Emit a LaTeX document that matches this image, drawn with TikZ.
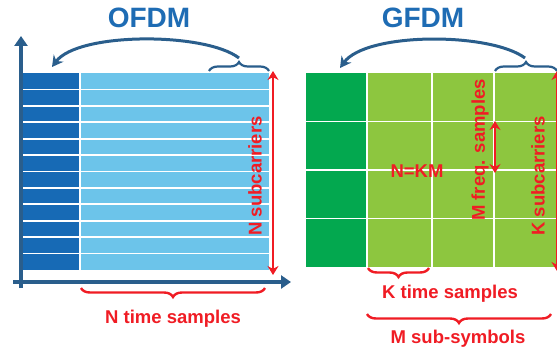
\documentclass[tikz,border=0pt]{standalone}
\usepackage{fontspec}
\setmainfont{Liberation Sans}
\usetikzlibrary{arrows.meta,decorations.pathreplacing}
\definecolor{titleblue}{HTML}{1E6CB4}
\definecolor{axisblue}{HTML}{2A5E8C}
\definecolor{darkblue}{HTML}{176AB5}
\definecolor{lightblue}{HTML}{6CC4EA}
\definecolor{darkgreen}{HTML}{03A84F}
\definecolor{lightgreen}{HTML}{8DC63F}
\definecolor{labelred}{HTML}{F01C24}
\tikzset{
  title/.style={text=titleblue,font=\fontsize{28}{30}\selectfont\bfseries,inner sep=0pt},
  lbl/.style={text=labelred,font=\fontsize{18.5}{20}\selectfont\bfseries,inner sep=0pt},
  axis/.style={draw=axisblue,line width=4pt,-{Triangle[length=10pt,width=13pt]}},
  gridline/.style={draw=white,line width=1.8pt},
  span/.style={draw=labelred,line width=2.6pt,{Stealth[length=9pt,width=11pt]}-{Stealth[length=9pt,width=11pt]}},
  bluebrace/.style={draw=axisblue,line width=2.2pt,decorate,decoration={brace,amplitude=9pt}},
  redbrace/.style={draw=labelred,line width=2.4pt,decorate,decoration={brace,amplitude=9pt,mirror}},
  hop/.style={draw=axisblue,line width=3pt,-{Stealth[length=11pt,width=12pt]}}
}
\begin{document}
\begin{tikzpicture}[x=1pt,y=-1pt]
\useasboundingbox[fill=white] (0,0) rectangle (557,353);

% ---------------- OFDM ----------------
\node[title] (ofdm) at (149,18) {OFDM};
\fill[lightblue] (23,73) rectangle (269,270);
\fill[darkblue] (23,73) rectangle (80,270);
\foreach \i in {1,...,11}
  \draw[gridline] (23,{73+\i*197/12}) -- (269,{73+\i*197/12});
\draw[gridline] (80,73) -- (80,270);

% axes
\coordinate (yb) at (21,288);
\coordinate (yt) at (21,36);
\coordinate (xl) at (13,282);
\coordinate (xr) at (291,282);
\draw[axis] (yb) -- (yt);
\draw[axis] (xl) -- (xr);

% cyclic prefix copy
\coordinate (cpL) at (209,71);
\coordinate (cpR) at (269,71);
\draw[bluebrace] (cpL) -- (cpR);
\coordinate (cpTip) at (239,58);
\coordinate (cpDst) at (52,67);
\draw[hop] (cpTip) .. controls (205,32) and (78,32) .. (cpDst);

% N subcarriers
\coordinate (nsT) at (273,71);
\coordinate (nsB) at (273,275);
\draw[span] (nsB) -- (nsT);
\node[lbl,rotate=90] (nsub) at (255,176) {N subcarriers};

% N time samples
\coordinate (ntL) at (81,288);
\coordinate (ntR) at (265,288);
\draw[redbrace] (ntL) -- (ntR);
\node[lbl] (ntime) at (173,319) {N time samples};

% ---------------- GFDM ----------------
\node[title] (gfdm) at (423,18) {GFDM};
\fill[lightgreen] (306,73) rectangle (560,267);
\fill[darkgreen] (306,73) rectangle (367,267);
\foreach \y in {121.5,170,218.5}
  \draw[gridline] (306,\y) -- (560,\y);
\foreach \x in {367,432,494}
  \draw[gridline] (\x,73) -- (\x,267);

% cyclic prefix copy
\coordinate (gcL) at (495,71);
\coordinate (gcR) at (557,71);
\draw[bluebrace] (gcL) -- (gcR);
\coordinate (gcTip) at (525,58);
\coordinate (gcDst) at (340,68);
\draw[hop] (gcTip) .. controls (490,32) and (366,32) .. (gcDst);

% K subcarriers
\coordinate (ksT) at (557,71);
\coordinate (ksB) at (557,271);
\draw[span] (ksB) -- (ksT);
\node[lbl,rotate=90] (ksub) at (538,176) {K subcarriers};

% M frequency samples
\coordinate (mfT) at (495,121);
\coordinate (mfB) at (495,173);
\draw[span] (mfB) -- (mfT);
\node[lbl,rotate=90] (mfreq) at (480,150) {M freq. samples};

\node[lbl] (nkm) at (417,171) {N=KM};

% K time samples
\coordinate (ktL) at (368,268);
\coordinate (ktR) at (429,268);
\draw[redbrace] (ktL) -- (ktR);
\node[lbl] (ktime) at (450,294) {K time samples};

% M sub-symbols
\coordinate (msL) at (367,314);
\coordinate (msR) at (551,314);
\draw[redbrace] (msL) -- (msR);
\node[lbl] (msub) at (458,339) {M sub-symbols};
\end{tikzpicture}
\end{document}
